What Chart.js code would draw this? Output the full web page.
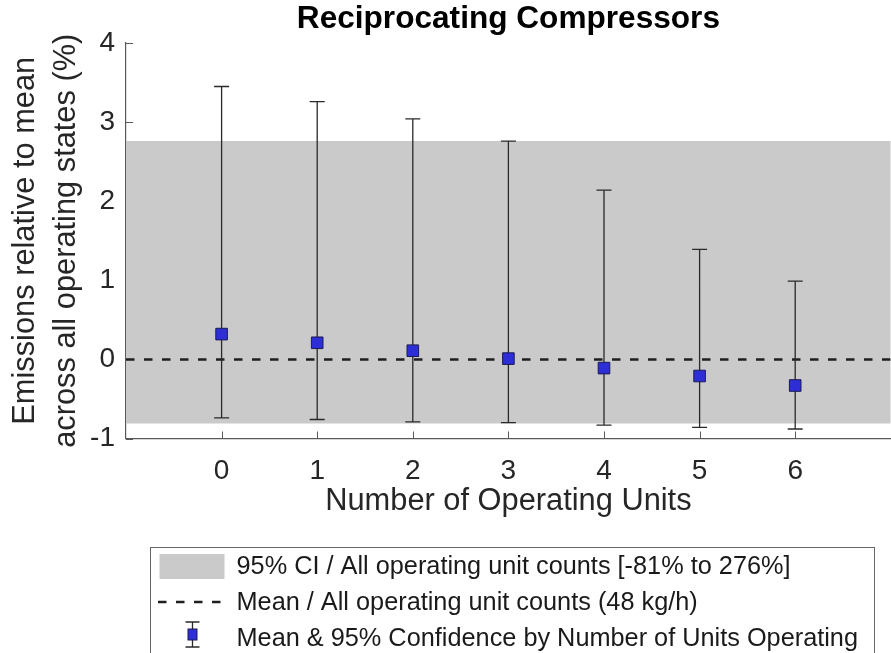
<!DOCTYPE html>
<html>
<head>
<meta charset="utf-8">
<script src="https://cdn.jsdelivr.net/npm/chart.js@4.4.1/dist/chart.umd.min.js"></script>
<style>
  html, body { margin: 0; padding: 0; overflow: hidden; background: #fff; }
  canvas { display: block; }
</style>
</head>
<body onload="handleOnLoad()">
<canvas id="myChart" width="900" height="653"></canvas>
<script>
// values
const unitCounts = [0, 1, 2, 3, 4, 5, 6]
const meanRel = [0.32, 0.21, 0.11, 0.01, -0.11, -0.21, -0.33]
const upperCI = [3.45, 3.26, 3.04, 2.76, 2.14, 1.39, 0.99]
const lowerCI = [-0.74, -0.76, -0.79, -0.80, -0.83, -0.86, -0.88]
const bandLow = -0.81
const bandHigh = 2.76
const overallMean = 0
const xTicks = [0, 1, 2, 3, 4, 5, 6]
const yTicks = [-1, 0, 1, 2, 3, 4]
const xRange = [-1, 7]
const yRange = [-1, 4]

const legendLabels = [
  '95% CI / All operating unit counts [-81% to 276%]',
  'Mean / All operating unit counts (48 kg/h)',
  'Mean & 95% Confidence by Number of Units Operating'
]

const FONT = "'Liberation Sans', Arial, sans-serif"
const bandColor = '#cacaca'
const markerFill = '#2e2ed6'
const markerEdge = '#1a1a55'
const barColor = '#2a2a2a'
const axisColor = '#595959'
const dash = [8.5, 9.5]

function handleOnLoad(){
  CreateChart()
}

// error bars, inward ticks and the boxed legend
const extras = {
  id: 'extras',
  beforeDatasetsDraw(chart) {
    const ctx = chart.ctx
    const xs = chart.scales.x
    const ys = chart.scales.y
    const area = chart.chartArea
    ctx.save()
    ctx.strokeStyle = axisColor
    ctx.lineWidth = 1
    ctx.beginPath()
    xTicks.forEach(function(t) {
      const px = Math.round(xs.getPixelForValue(t)) + 0.5
      ctx.moveTo(px, area.bottom)
      ctx.lineTo(px, area.bottom - 7)
    })
    yTicks.forEach(function(t) {
      const py = Math.round(ys.getPixelForValue(t)) + 0.5
      ctx.moveTo(area.left, py)
      ctx.lineTo(area.left + 7, py)
    })
    ctx.stroke()
    ctx.restore()
  },
  beforeDatasetDraw(chart, args) {
    if (args.meta.type !== 'scatter') return
    const ctx = chart.ctx
    const xs = chart.scales.x
    const ys = chart.scales.y
    ctx.save()
    ctx.strokeStyle = barColor
    ctx.lineWidth = 1.3
    ctx.beginPath()
    unitCounts.forEach(function(u, i) {
      const px = xs.getPixelForValue(u)
      const top = ys.getPixelForValue(upperCI[i])
      const bot = ys.getPixelForValue(lowerCI[i])
      ctx.moveTo(px, top); ctx.lineTo(px, bot)
      ctx.moveTo(px - 7.5, top); ctx.lineTo(px + 7.5, top)
      ctx.moveTo(px - 7.5, bot); ctx.lineTo(px + 7.5, bot)
    })
    ctx.stroke()
    ctx.restore()
  },
  afterDraw(chart) {
    const ctx = chart.ctx
    ctx.save()
    // legend box
    ctx.strokeStyle = '#666'
    ctx.lineWidth = 1
    ctx.strokeRect(150.5, 547.5, 724, 130)
    // row 1: band
    ctx.fillStyle = bandColor
    ctx.fillRect(159.5, 554, 65, 25)
    // row 2: dashed line
    ctx.strokeStyle = '#1f1f1f'
    ctx.lineWidth = 2.5
    ctx.setLineDash(dash)
    ctx.beginPath()
    ctx.moveTo(158, 602); ctx.lineTo(222, 602)
    ctx.stroke()
    ctx.setLineDash([])
    // row 3: error bar symbol
    ctx.strokeStyle = barColor
    ctx.lineWidth = 1.3
    ctx.beginPath()
    ctx.moveTo(192.5, 622); ctx.lineTo(192.5, 647)
    ctx.moveTo(185.5, 622); ctx.lineTo(199.5, 622)
    ctx.moveTo(185.5, 647); ctx.lineTo(199.5, 647)
    ctx.stroke()
    ctx.fillStyle = markerFill
    ctx.strokeStyle = markerEdge
    ctx.lineWidth = 1
    ctx.fillRect(188, 629, 9, 11)
    ctx.strokeRect(188, 629, 9, 11)
    // texts
    ctx.fillStyle = '#1a1a1a'
    ctx.font = '25.3px ' + FONT
    ctx.textBaseline = 'alphabetic'
    ctx.textAlign = 'left'
    ctx.fillText(legendLabels[0], 236.5, 574)
    ctx.fillText(legendLabels[1], 236.5, 610)
    ctx.fillText(legendLabels[2], 236.5, 646)
    ctx.restore()
  }
}

function CreateChart(){
  const ctx = document.getElementById('myChart').getContext('2d')
  const myChart = new Chart(ctx, {
    type: 'scatter',
    data: {
      datasets: [{
        label: 'Mean & 95% Confidence by Number of Units Operating',
        type: 'scatter',
        data: unitCounts.map(function(u, i) { return {x: u, y: meanRel[i]} }),
        pointStyle: 'rect',
        pointRadius: 8.2,
        pointHoverRadius: 8.2,
        backgroundColor: markerFill,
        borderColor: markerEdge,
        borderWidth: 1,
        order: 1
      }, {
        label: 'Mean / All operating unit counts',
        type: 'line',
        data: [{x: xRange[0], y: overallMean}, {x: xRange[1], y: overallMean}],
        borderColor: '#1f1f1f',
        borderWidth: 2.5,
        borderDash: dash,
        pointRadius: 0,
        fill: false,
        order: 2
      }, {
        label: '95% CI / All operating unit counts',
        type: 'line',
        data: [{x: xRange[0], y: bandHigh}, {x: xRange[1], y: bandHigh}],
        borderColor: 'rgba(0,0,0,0)',
        borderWidth: 0,
        backgroundColor: bandColor,
        pointRadius: 0,
        fill: {value: bandLow},
        order: 3
      }]
    },
    options: {
      responsive: false,
      animation: false,
      layout: {
        padding: {top: 0, left: 0, right: 0, bottom: 124.5}
      },
      scales: {
        x: {
          type: 'linear',
          min: xRange[0],
          max: xRange[1],
          afterBuildTicks: function(scale) {
            scale.ticks = xTicks.map(function(v) { return {value: v} })
          },
          afterFit: function(scale) { scale.height = 90 },
          grid: {display: false, drawTicks: false},
          border: {display: true, color: axisColor, width: 1.2},
          ticks: {
            padding: 15.5,
            maxRotation: 0,
            color: '#262626',
            font: {family: FONT, size: 28}
          },
          title: {
            display: true,
            text: 'Number of Operating Units',
            color: '#262626',
            font: {family: FONT, size: 30.8, lineHeight: 1.2},
            padding: {top: 0, bottom: 8.3}
          }
        },
        y: {
          type: 'linear',
          min: yRange[0],
          max: yRange[1],
          afterBuildTicks: function(scale) {
            scale.ticks = yTicks.map(function(v) { return {value: v} })
          },
          afterFit: function(scale) { scale.width = 126 },
          grid: {display: false, drawTicks: false},
          border: {display: true, color: axisColor, width: 1.2},
          ticks: {
            padding: 11,
            color: '#262626',
            font: {family: FONT, size: 28}
          },
          title: {
            display: true,
            text: ['Emissions relative to mean', 'across all operating states (%)'],
            color: '#262626',
            font: {family: FONT, size: 30.8, lineHeight: 1.33},
            padding: {top: 5.4, bottom: 0}
          }
        }
      },
      plugins: {
        legend: {display: false},
        tooltip: {enabled: false},
        title: {
          display: true,
          fullSize: false,
          text: 'Reciprocating Compressors',
          color: '#000',
          font: {family: FONT, size: 31.6, weight: 'bold', lineHeight: 1.2},
          padding: {top: 0, bottom: 5.1}
        }
      }
    },
    plugins: [extras]
  })
}
</script>
</body>
</html>
